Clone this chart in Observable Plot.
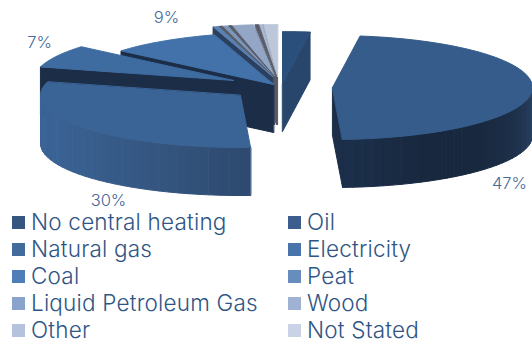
<!DOCTYPE html>
<html>
<head>
<meta charset="utf-8">
<script src="https://cdn.jsdelivr.net/npm/d3@7"></script>
<script src="https://cdn.jsdelivr.net/npm/@observablehq/plot@0.6"></script>
<style>
  html, body { margin: 0; padding: 0; background: #fff; overflow: hidden; }
  svg { display: block; }
  #legend {
    display: grid;
    grid-template-columns: 276px 1fr;
    grid-auto-rows: 20px;
    row-gap: 7px;
    padding: 0 0 0 12px;
    font: 300 22.5px Inter, sans-serif;
    letter-spacing: 0.2px;
    color: #2f5585;
  }
  #legend div { display: flex; align-items: center; white-space: nowrap; line-height: 20px; }
  #legend i { width: 13px; height: 13px; margin-right: 6px; flex: none; }
</style>
</head>
<body>
<div id="chart"></div>
<div id="legend"></div>
<script>
// Central heating fuel shares, percent of households
const categories = ["No central heating", "Oil", "Natural gas", "Electricity", "Coal",
                    "Peat", "Liquid Petroleum Gas", "Wood", "Other", "Not Stated"];
const shares = [2.2, 47, 30, 7, 9, 0.4, 0.7, 2, 0.6, 1.1];
const valueLabels = ["", "47%", "30%", "7%", "9%", "", "", "", "", ""];

// Legend swatches, top-face fills and cut-face fills
const swatchColors = ["#35567f", "#3c5e8e", "#426a9d", "#4873ab", "#4e7db7",
                      "#678dbf", "#8aa3cc", "#a0b2d3", "#b5c2dd", "#cad3e5"];
const topColors = ["#2b4f7b", "#355c8a", "#3b6496", "#3e6ba0", "#4272a9",
                   "#5a82b4", "#7f98bd", "#94a6c5", "#a9b7cf", "#bcc7d9"];
const wallColors = ["#28456b", "#1c2e48", "#1b2d47", "#1b2d47", "#1b2d47",
                    "#2b3f5e", "#565b66", "#565b66", "#565b66", "#565b66"];

// Gradient along the curved wall, from its first visible edge to its last
const rimGradients = {
  "Oil": ["#2c4567", "#1a2b43", "#16253a", "#1c2f4a"],
  "Natural gas": ["#3a6499", "#3a6193", "#355882", "#2e4a70"]
};

// Pie geometry and the offset that pulls each slice out of the pie
const pie = {cx: 277, cy: 85, rx: 200, ry: 52, depth: 48};
const explodeX = [5, 55, -37, -44, -4, -5, -4, -3, -1, 0];
const explodeY = [-2, 2, 10, -5, -1, -9, -9, -9, -9, -9];
const seamDegrees = 0.9; // width of the dark seam between the small slices
const seamed = ["Liquid Petroleum Gas", "Wood", "Other"];
const labelSpots = {"47%": [509, 183], "30%": [108, 200], "7%": [39, 42], "9%": [166, 17]};

const total = d3.sum(shares);
const cumulative = d3.cumsum(shares);
const rad = d => d * Math.PI / 180;
const slices = categories.map((name, i) => ({
  name, i,
  a0: (i ? cumulative[i - 1] : 0) / total * 360,
  a1: cumulative[i] / total * 360,
  cx: pie.cx + explodeX[i],
  cy: pie.cy + explodeY[i]
}));

const rimPoint = (s, a, drop = 0) => [s.cx + pie.rx * Math.sin(rad(a)), s.cy - pie.ry * Math.cos(rad(a)) + drop];
const arc = (s, from, to, drop = 0) => d3.range(0, 41).map(k => rimPoint(s, from + (to - from) * k / 40, drop));

const vertices = [];
const addFace = (poly, color) => {
  const face = vertices.length ? vertices[vertices.length - 1].face + 1 : 0;
  poly.forEach(([x, y]) => vertices.push({x, y, face, color}));
};

function addSlice(s) {
  const {a0, a1, i} = s;
  const apex = [s.cx, s.cy];
  const low = ([x, y]) => [x, y + pie.depth];

  // Cut faces turned towards the viewer
  if (Math.sin(rad(a0)) < 0) {
    const r = rimPoint(s, a0);
    addFace([apex, r, low(r), low(apex)], wallColors[i]);
  }
  if (Math.sin(rad(a1)) > 0) {
    const r = rimPoint(s, a1);
    addFace([apex, r, low(r), low(apex)], wallColors[i]);
  }

  // Curved wall on the near half, split into vertical strips for the shading
  const from = Math.max(a0, 90), to = Math.min(a1, 270);
  if (to > from) {
    const stops = rimGradients[s.name];
    const tint = stops ? d3.interpolateRgbBasis(stops) : () => wallColors[i];
    const strips = Math.ceil((to - from) / 3);
    for (let k = 0; k < strips; ++k) {
      const b0 = from + (to - from) * k / strips;
      const b1 = from + (to - from) * (k + 1) / strips;
      const t = s.name === "Natural gas" ? 1 - k / (strips - 1) : k / (strips - 1);
      addFace([rimPoint(s, b0), rimPoint(s, b1), rimPoint(s, b1, pie.depth), rimPoint(s, b0, pie.depth)], tint(t));
    }
  }

  // Top face, then the seam along its leading edge
  addFace([apex, ...arc(s, a0, a1)], topColors[i]);
  if (seamed.includes(s.name)) addFace([apex, ...arc(s, a0, a0 + seamDegrees)], wallColors[i]);
}

// Painted back to front: the thin rear slices, then the larger ones
for (let i = 9; i >= 5; --i) addSlice(slices[i]);
addSlice(slices[0]);
addSlice(slices[4]);
addSlice(slices[3]);
addSlice(slices[2]);
addSlice(slices[1]);

const labelRows = valueLabels.filter(Boolean).map(text => ({text, x: labelSpots[text][0], y: labelSpots[text][1]}));

const chart = Plot.plot({
  width: 532,
  height: 212,
  margin: 0,
  x: {type: "linear", domain: [0, 532], range: [0, 532], axis: null},
  y: {type: "linear", domain: [0, 212], range: [0, 212], axis: null},
  style: {background: "#fff"},
  marks: [
    Plot.line(vertices, {
      x: "x", y: "y", z: "face",
      fill: "color", stroke: "color", strokeWidth: 1,
      curve: "linear-closed"
    }),
    Plot.text(labelRows, {
      x: "x", y: "y", text: "text",
      fill: "#45699a",
      fontSize: 16.5,
      fontFamily: "Inter",
      fontWeight: 300
    })
  ]
});
document.getElementById("chart").append(chart);

const legend = document.getElementById("legend");
categories.forEach((name, i) => {
  const row = document.createElement("div");
  const mark = document.createElement("i");
  mark.style.background = swatchColors[i];
  row.append(mark, name);
  legend.append(row);
});
</script>
</body>
</html>
